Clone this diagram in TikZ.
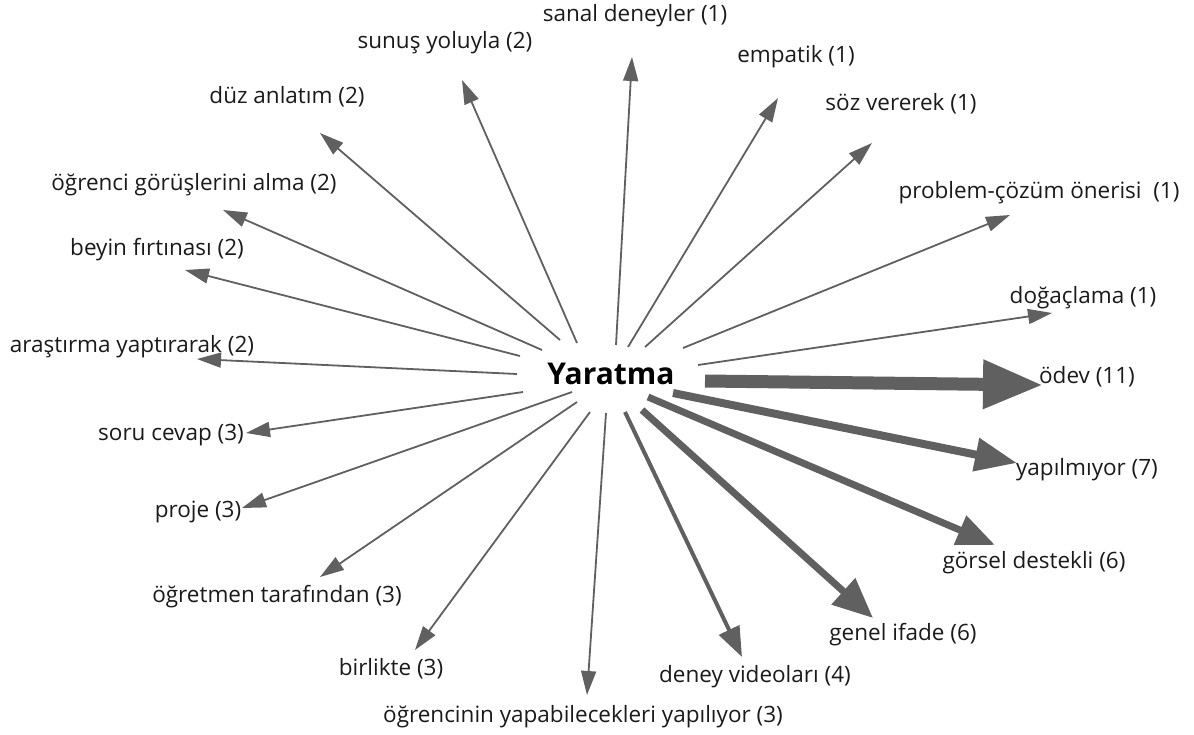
\documentclass[tikz,border=0pt]{standalone}
\usepackage{fontspec}
\setmainfont{Open Sans}
\usetikzlibrary{arrows.meta}
\definecolor{edgec}{HTML}{606060}
\definecolor{textc}{HTML}{1A1A1A}
\tikzset{
  lbl/.style={font=\fontsize{22.5}{24}\selectfont, text=textc, inner sep=0pt},
  hub/.style={font=\fontsize{30}{32}\selectfont\bfseries, text=black, inner sep=0pt},
  link/.style={draw=edgec, line width=1.8pt, -{Triangle[length=24pt,width=15pt]}},
}
\begin{document}
\begin{tikzpicture}[x=1pt,y=-1pt]
\useasboundingbox (0,0) rectangle (1194,734);
% hub
\node[hub] (c) at (611,374) {Yaratma};
% labels
\node[lbl] (n1)  at (635,16)  {sanal deneyler (1)};
\node[lbl] (n2)  at (445,43)  {sunuş yoluyla (2)};
\node[lbl] (n3)  at (287,97)  {düz anlatım (2)};
\node[lbl] (n4)  at (194,185) {öğrenci görüşlerini alma (2)};
\node[lbl] (n5)  at (157,250) {beyin fırtınası (2)};
\node[lbl] (n6)  at (132,347) {araştırma yaptırarak (2)};
\node[lbl] (n7)  at (171,435) {soru cevap (3)};
\node[lbl] (n8)  at (198,512) {proje (3)};
\node[lbl] (n9)  at (277,597) {öğretmen tarafından (3)};
\node[lbl] (n10) at (391,669) {birlikte (3)};
\node[lbl] (n11) at (583,717) {öğrencinin yapabilecekleri yapılıyor (3)};
\node[lbl] (n12) at (755,677) {deney videoları (4)};
\node[lbl] (n13) at (903,635) {genel ifade (6)};
\node[lbl] (n14) at (1034,563) {görsel destekli (6)};
\node[lbl] (n15) at (1087,470) {yapılmıyor (7)};
\node[lbl] (n16) at (1087,377) {ödev (11)};
\node[lbl] (n17) at (1083,298) {doğaçlama (1)};
\node[lbl] (n18) at (1039,193) {problem-çözüm önerisi\ \ (1)};
\node[lbl] (n19) at (901,104) {söz vererek (1)};
\node[lbl] (n20) at (796,57)  {empatik (1)};
% connector ends around the hub
\coordinate (s1)  at (616,345);  \coordinate (t1)  at (632,57);
\coordinate (s2)  at (577,343);  \coordinate (t2)  at (462,80);
\coordinate (s3)  at (560,340);  \coordinate (t3)  at (320,133);
\coordinate (s4)  at (542,350);  \coordinate (t4)  at (223,210);
\coordinate (s5)  at (520,356);  \coordinate (t5)  at (185,270);
\coordinate (s6)  at (517,374);  \coordinate (t6)  at (197,359);
\coordinate (s7)  at (523,392);  \coordinate (t7)  at (246,433);
\coordinate (s8)  at (572,392);  \coordinate (t8)  at (242,508);
\coordinate (s9)  at (577,402);  \coordinate (t9)  at (320,577);
\coordinate (s10) at (590,412);  \coordinate (t10) at (415,650);
\coordinate (s11) at (606,413);  \coordinate (t11) at (587,695);
\coordinate (s12) at (625,412);  \coordinate (t12) at (742,657);
\coordinate (s13) at (642,410);  \coordinate (t13) at (873,618);
\coordinate (s14) at (648,397);  \coordinate (t14) at (995,545);
\coordinate (s15) at (673,393);  \coordinate (t15) at (1017,463);
\coordinate (s16) at (705,381);  \coordinate (t16) at (1043,385);
\coordinate (s17) at (698,365);  \coordinate (t17) at (1052,313);
\coordinate (s18) at (683,348);  \coordinate (t18) at (1010,215);
\coordinate (s19) at (645,347);  \coordinate (t19) at (872,143);
\coordinate (s20) at (628,347);  \coordinate (t20) at (778,98);
% thin connectors
\foreach \i in {1,...,11,17,18,19,20}
  \draw[link] (s\i) -- (t\i);
% weighted connectors
\draw[link, line width=4pt, -{Triangle[length=30pt,width=22pt]}] (s12) -- (t12);
\draw[link, line width=7pt, -{Triangle[length=40pt,width=34pt]}] (s13) -- (t13);
\draw[link, line width=7pt, -{Triangle[length=38pt,width=30pt]}] (s14) -- (t14);
\draw[link, line width=8pt, -{Triangle[length=42pt,width=32pt]}] (s15) -- (t15);
\draw[link, line width=13pt, -{Triangle[length=60pt,width=46pt]}] (s16) -- (t16);
\end{tikzpicture}
\end{document}
